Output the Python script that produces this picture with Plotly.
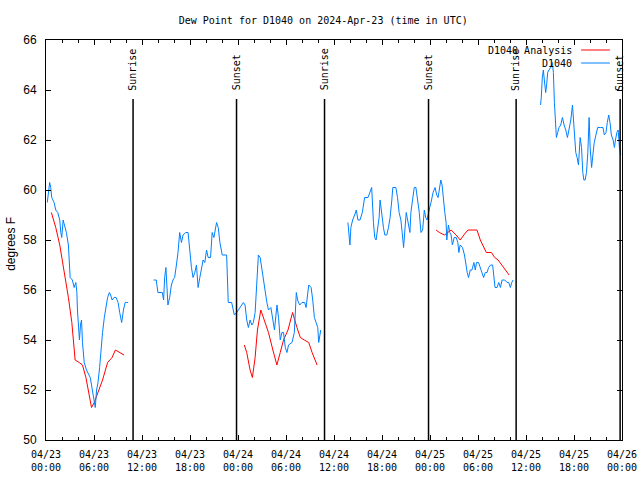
import pandas as pd
import plotly.graph_objects as go

# ---------------- data (hours after 2024-04-23 00:00 UTC, degrees F) ----------------
obs_hours = [
    0.16, 0.29, 0.46, 0.59, 0.72, 1.01, 1.22, 1.47, 1.72, 1.85, 1.97, 2.14, 2.39, 2.55, 2.80,
    2.89, 3.02, 3.30, 3.52, 3.73, 3.86, 3.93, 4.06, 4.18, 4.31, 4.44, 4.56, 4.78, 5.06, 5.32,
    5.53, 5.69, 5.91, 6.07, 6.16, 6.32, 6.50, 6.70, 6.87, 7.07, 7.29, 7.50, 7.70, 7.92, 8.08,
    8.26, 8.51, 8.76, 9.01, 9.21, 9.46, 9.68, 9.89, 10.09, 10.27,
    None,
    13.45, 13.78, 13.99, 14.54, 14.70, 14.83, 14.99, 15.24, 15.46, 15.67, 15.87, 16.08, 16.30,
    16.50, 16.71, 16.93, 17.13, 17.47, 17.76, 17.97, 18.18, 18.38, 18.60, 18.81, 19.01, 19.23,
    19.44, 19.64, 19.85, 20.07, 20.27, 20.57, 20.77, 20.99, 21.32, 21.53, 21.74, 22.03, 22.58,
    22.78, 23.21, 23.54, 23.84, 24.25, 24.67, 24.88, 25.09, 25.30, 25.51, 25.73, 25.92, 26.14,
    26.35, 26.55, 26.77, 26.98, 27.27, 27.61, 27.81, 28.11, 28.36, 28.56, 28.87, 29.07, 29.28,
    29.49, 29.69, 29.91, 30.12, 30.32, 30.75, 31.04, 31.29, 31.45, 31.71, 32.00, 32.33, 32.51,
    32.84, 33.14, 33.34, 33.55, 33.76, 33.97, 34.09, 34.22, 34.34,
    None,
    37.74, 37.86, 37.99, 38.11, 38.33, 38.58, 38.79, 38.99, 39.25, 39.54, 39.83, 40.25, 40.50,
    40.71, 40.93, 41.09, 41.26, 41.43, 41.64, 41.76, 41.98, 42.18, 42.35, 42.60, 42.81, 43.01,
    43.23, 43.35, 43.73, 43.94, 44.14, 44.36, 44.52, 44.70, 44.86, 45.03, 45.15, 45.33, 45.49,
    45.61, 45.83, 46.03, 46.24, 46.46, 46.66, 46.87, 47.08, 47.29, 47.46, 47.63, 47.79, 47.96,
    48.13, 48.38, 48.63, 48.84, 49.01, 49.17, 49.35, 49.51, 49.67, 49.85, 50.01, 50.10, 50.30,
    50.48, 50.64, 50.80, 51.02, 51.27, 51.48, 51.61, 51.77, 52.06, 52.31, 52.49, 52.65, 52.82,
    53.03, 53.24, 53.49, 53.66, 53.82, 54.07, 54.29, 54.50, 54.70, 54.91, 55.13, 55.33, 55.58,
    55.83, 56.01, 56.13, 56.38, 56.59, 56.80, 57.01, 57.34, 57.64, 57.84, 58.05, 58.22, 58.39,
    None,
    61.82, 61.91, 62.04, 62.17, 62.29, 62.46, 62.58, 62.71, 62.87, 63.08, 63.30, 63.42, 63.55,
    63.67, 63.80, 63.96, 64.13, 64.34, 64.55, 64.76, 64.97, 65.18, 65.38, 65.60, 65.81, 65.93,
    66.06, 66.22, 66.39, 66.56, 66.77, 66.94, 67.10, 67.23, 67.39, 67.56, 67.73, 67.89, 68.02,
    68.20, 68.36, 68.53, 68.74, 68.96, 69.28, 69.62, 69.79, 70.00, 70.16, 70.34, 70.50, 70.67,
    70.89, 71.05, 71.18, 71.36, 71.52, 71.68, 71.85,
]
obs_dewpt = [
    59.5, 60.0, 60.3, 60.1, 59.7, 59.5, 59.2, 59.1, 58.8, 58.3, 58.1, 58.8, 58.5, 58.3, 57.8,
    56.9, 56.5, 56.4, 56.1, 56.3, 55.9, 55.2, 54.6, 54.0, 54.6, 54.8, 53.9, 53.1, 52.8, 52.6,
    52.5, 52.2, 51.8, 51.5, 51.3, 52.0, 52.3, 52.9, 53.6, 54.3, 54.9, 55.3, 55.7, 55.9, 55.8,
    55.6, 55.7, 55.7, 55.5, 55.1, 54.7, 55.2, 55.5, 55.5, 55.5,
    None,
    56.4, 56.4, 55.9, 55.9, 55.6, 56.5, 56.9, 55.4, 55.7, 56.2, 56.4, 56.5, 57.0,
    57.5, 58.3, 57.9, 58.2, 58.3, 58.3, 57.5, 56.9, 56.5, 56.7, 57.0, 56.1, 56.5,
    56.9, 57.2, 57.1, 57.6, 57.3, 57.3, 58.3, 58.1, 58.7, 58.5, 57.9, 57.4, 57.4,
    55.5, 55.5, 55.0, 55.1, 55.3, 55.5, 55.4, 54.8, 54.5, 54.8, 54.6, 54.7, 55.1,
    56.3, 57.4, 57.3, 56.8, 56.3, 55.5, 55.2, 55.3, 54.8, 54.4, 55.4, 54.9, 54.0,
    54.3, 54.3, 53.7, 53.5, 53.8, 53.9, 54.3, 55.9, 55.6, 55.4, 55.5, 55.5, 55.3,
    56.2, 56.1, 55.6, 54.9, 54.7, 54.5, 53.9, 54.2, 54.4,
    None,
    58.7, 58.1, 57.8, 58.5, 58.8, 59.0, 59.2, 58.8, 58.8, 59.1, 59.7, 59.7, 59.9,
    60.1, 58.7, 58.1, 58.0, 58.4, 58.9, 59.6, 58.9, 58.5, 58.2, 58.2, 58.5, 58.9,
    59.6, 60.1, 60.1, 59.7, 59.1, 58.8, 58.3, 57.7, 58.4, 59.1, 58.9, 58.5, 58.3,
    59.1, 59.7, 60.1, 60.1, 59.6, 59.1, 58.3, 58.4, 59.2, 58.9, 58.8, 59.1, 59.3,
    59.5, 59.9, 60.1, 59.8, 59.7, 60.1, 60.4, 60.2, 59.5, 59.1, 58.7, 58.0, 58.6,
    58.3, 58.2, 57.8, 58.1, 58.1, 57.9, 57.5, 57.8, 57.7, 57.4, 56.9, 56.7, 56.5,
    56.8, 56.8, 57.1, 56.8, 57.1, 57.1, 56.9, 56.7, 56.5, 56.7, 56.7, 56.9, 57.0,
    57.0, 56.4, 56.1, 56.1, 56.3, 56.1, 56.4, 56.4, 56.3, 56.3, 56.1, 56.3, 56.4,
    None,
    63.4, 63.7, 64.5, 64.8, 64.4, 63.9, 64.2, 64.7, 64.8, 64.9, 65.1, 64.7, 63.5,
    62.8, 62.1, 62.3, 62.5, 62.6, 62.9, 62.6, 62.4, 62.1, 62.4, 62.8, 63.4, 62.8,
    62.1, 61.5, 61.3, 61.0, 62.1, 61.7, 60.7, 60.4, 60.4, 60.7, 61.5, 62.9, 61.7,
    60.9, 61.4, 61.9, 62.2, 62.5, 62.5, 62.5, 62.2, 62.3, 62.7, 63.0, 62.7, 62.2,
    62.0, 61.7, 62.0, 62.3, 62.4, 61.7, 61.4,
]

ana_hours = [
    0.67, 1.22, 1.72, 2.26, 2.80, 3.23, 3.64, 4.15, 4.56, 4.99, 5.40, 5.69, 6.03, 6.45, 7.07,
    7.70, 8.26, 8.67, 9.17, 9.76,
    None,
    24.79, 25.09, 25.51, 25.80, 26.14, 26.43, 26.85, 27.27, 27.81, 28.36, 28.86, 29.28, 29.69,
    30.25, 30.82, 31.37, 31.79, 32.29, 32.84, 33.26, 33.89,
    None,
    48.76, 49.17, 49.80, 50.22, 50.64, 51.27, 51.77, 52.23, 52.74, 53.37, 53.87, 54.29, 54.70,
    55.04, 55.67, 56.09, 56.51, 57.01, 57.43, 57.89,
]
ana_dewpt = [
    59.1, 58.5, 57.8, 56.8, 55.7, 54.7, 53.2, 53.1, 53.0, 52.5, 51.7, 51.3, 51.5, 51.9, 52.4,
    53.1, 53.3, 53.6, 53.5, 53.4,
    None,
    53.8, 53.5, 52.8, 52.5, 53.3, 54.4, 55.2, 54.8, 54.3, 53.6, 53.0, 53.5, 54.0,
    54.4, 55.1, 54.5, 54.1, 54.0, 53.9, 53.5, 53.0,
    None,
    58.4, 58.3, 58.2, 58.3, 58.4, 58.2, 58.0, 58.2, 58.4, 58.4, 58.4, 58.0, 57.7,
    57.5, 57.5, 57.3, 57.2, 57.0, 56.8, 56.6,
]

sun_events = ["Sunrise", "Sunset", "Sunrise", "Sunset", "Sunrise", "Sunset"]
sun_times = ["2024-04-23 10:53", "2024-04-23 23:49", "2024-04-24 10:49",
             "2024-04-24 23:49", "2024-04-25 10:46", "2024-04-25 23:46"]

series_names = ["D1040 Analysis", "D1040"]
series_colors = ["#ff0000", "#0080ff"]

base = pd.Timestamp("2024-04-23 00:00")


def to_times(hours):
    return [None if h is None else base + pd.Timedelta(hours=h) for h in hours]


mono = "DejaVu Sans Mono"
sans = "Liberation Sans"

fig = go.Figure()
fig.add_trace(go.Scatter(x=to_times(ana_hours), y=ana_dewpt, mode="lines",
                         line=dict(color=series_colors[0], width=1), connectgaps=False,
                         name=series_names[0], showlegend=False))
fig.add_trace(go.Scatter(x=to_times(obs_hours), y=obs_dewpt, mode="lines",
                         line=dict(color=series_colors[1], width=1), connectgaps=False,
                         name=series_names[1], showlegend=False))

for ev, t in zip(sun_events, sun_times):
    fig.add_shape(type="line", xref="x", yref="paper", x0=t, x1=t, y0=0, y1=0.8525,
                  line=dict(color="black", width=1.5))
    fig.add_annotation(x=t, xref="x", y=0.868, yref="paper", text=ev, showarrow=False,
                       textangle=-90, xanchor="center", yanchor="bottom",
                       font=dict(family=mono, size=10, color="black"))

# gnuplot-style legend: text right-aligned, line sample on the right
legend_rows = [0.975, 0.9425]
for name, color, yy in zip(series_names, series_colors, legend_rows):
    fig.add_annotation(x=0.917, xref="paper", y=yy, yref="paper", text=name,
                       showarrow=False, xanchor="right", yanchor="middle",
                       font=dict(family=mono, size=10, color="black"))
    fig.add_shape(type="line", xref="paper", yref="paper", x0=0.929, x1=0.979,
                  y0=yy, y1=yy, line=dict(color=color, width=1))

fig.add_annotation(x=-0.061, xref="paper", y=0.49, yref="paper", text="degrees F",
                   showarrow=False, textangle=-90, xanchor="center", yanchor="middle",
                   font=dict(family=sans, size=12, color="black"))

fig.update_layout(
    width=640, height=480,
    margin=dict(l=46, r=18, t=40, b=40, autoexpand=False),
    paper_bgcolor="white", plot_bgcolor="white",
    title=dict(text="Dew Point for D1040 on 2024-Apr-23 (time in UTC)",
               x=0.505, xanchor="center", y=0.958, yanchor="middle",
               font=dict(family=mono, size=10, color="black")),
    showlegend=False,
)
fig.update_xaxes(
    type="date",
    range=["2024-04-23 00:00", "2024-04-26 00:00"],
    dtick=6 * 3600 * 1000, tick0="2024-04-23 00:00",
    tickformat="%m/%d<br>%H:%M",
    ticks="inside", ticklen=5, tickcolor="black", tickwidth=1,
    minor=dict(dtick=2 * 3600 * 1000, ticks="inside", ticklen=3, tickcolor="black"),
    showline=True, linecolor="black", linewidth=1, mirror="ticks",
    showgrid=False, zeroline=False, automargin=False,
    tickfont=dict(family=mono, size=10, color="black"),
    ticklabelstandoff=5,
)
fig.update_yaxes(
    range=[50, 66], dtick=2, tick0=50,
    ticks="inside", ticklen=5, tickcolor="black", tickwidth=1,
    showline=True, linecolor="black", linewidth=1, mirror="ticks",
    showgrid=False, zeroline=False, automargin=False,
    tickfont=dict(family=sans, size=12, color="black"),
    ticklabelstandoff=6,
)

fig.write_html("out.html", config={"displayModeBar": False},
               post_script="document.body.style.margin='0px';document.body.style.padding='0px';")
